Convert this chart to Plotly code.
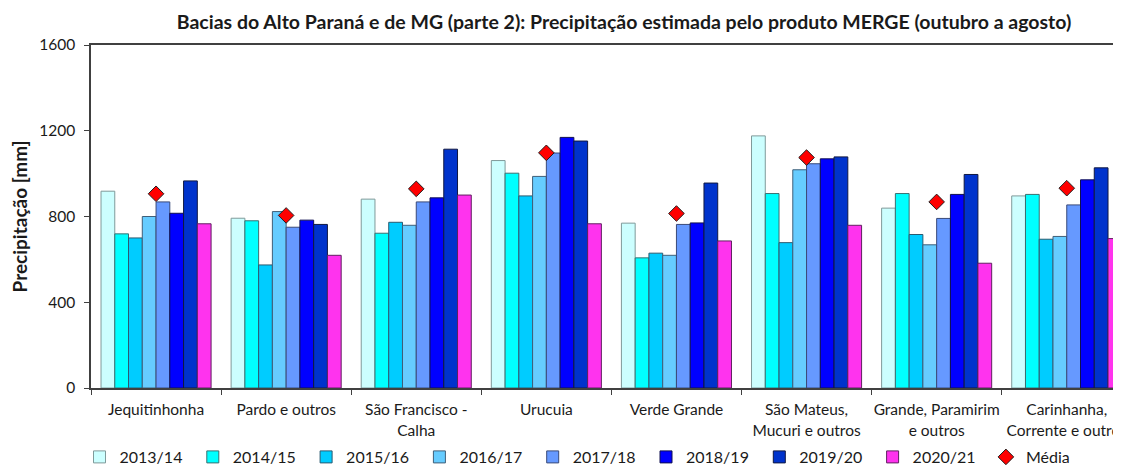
import plotly.graph_objects as go

categories = ["Jequitinhonha", "Pardo e outros", "São Francisco -<br>Calha", "Urucuia",
              "Verde Grande", "São Mateus,<br>Mucuri e outros", "Grande, Paramirim<br>e outros",
              "Carinhanha,<br>Corrente e outros"]

seasons = ["2013/14", "2014/15", "2015/16", "2016/17", "2017/18", "2018/19", "2019/20", "2020/21"]

v2013_14 = [918, 792, 881, 1061, 769, 1176, 839, 896]
v2014_15 = [719, 780, 722, 1002, 607, 907, 907, 903]
v2015_16 = [700, 574, 773, 896, 629, 678, 716, 694]
v2016_17 = [800, 823, 759, 987, 619, 1018, 668, 707]
v2017_18 = [868, 750, 868, 1096, 763, 1046, 791, 854]
v2018_19 = [815, 783, 887, 1169, 770, 1069, 903, 971]
v2019_20 = [966, 763, 1114, 1152, 956, 1078, 996, 1027]
v2020_21 = [766, 619, 900, 766, 686, 759, 582, 697]
media = [906, 805, 929, 1097, 814, 1075, 868, 932]

series = [v2013_14, v2014_15, v2015_16, v2016_17, v2017_18, v2018_19, v2019_20, v2020_21]
colors = ["#CCFFFF", "#00FFFF", "#00CCFF", "#66CCFF", "#6699FF", "#0000FF", "#0033CC", "#FF33EE"]
edges = ["#7F9A9A", "#3A6F70", "#2A5A70", "#3F5F78", "#3A4A78", "#101050", "#101840", "#602060"]

FONT = "Lato"
OFF = 8  # page body margin
W, H = 1121 - OFF, 467 - OFF
L, R, T, B = 91 - OFF, 0, 45 - OFF, 79
PW, PH = W - L - R, H - T - B

fig = go.Figure()
for name, vals, col, ed in zip(seasons, series, colors, edges):
    fig.add_trace(go.Bar(x=categories, y=vals, name=name,
                         marker=dict(color=col, line=dict(color=ed, width=1))))
fig.add_trace(go.Scatter(x=categories, y=media, name="Média", mode="markers",
                         marker=dict(symbol="diamond", size=12, color="#FF0000",
                                     line=dict(color="#202020", width=1))))

fig.update_layout(
    width=W, height=H,
    margin=dict(l=L, r=R, t=T, b=B, autoexpand=False),
    paper_bgcolor="white", plot_bgcolor="white",
    barmode="group", bargap=0.154, bargroupgap=0,
    font=dict(family=FONT, size=15.5, color="#1a1a1a"),
    title=dict(text="<b>Bacias do Alto Paraná e de MG (parte 2): Precipitação estimada pelo produto MERGE (outubro a agosto)</b>",
               x=(624 - OFF - L) / PW, xref="paper", xanchor="center", y=1 - (22 - OFF) / H,
               yref="container", yanchor="middle",
               font=dict(family=FONT, size=19.5, color="#1a1a1a")),
    showlegend=True,
    legend=dict(orientation="h", x=(79.5 - OFF - L) / PW, y=-(457 - OFF - (H - B)) / PH,
                xanchor="left", yanchor="middle",
                entrywidth=68.3, entrywidthmode="pixels",
                font=dict(family=FONT, size=16, color="#1a1a1a"), itemwidth=30,
                bgcolor="rgba(0,0,0,0)"),
)

fig.update_xaxes(range=[-0.5, 7.417], showline=True, linecolor="#404040", linewidth=1.5,
                 mirror=True, ticks="outside", tickson="boundaries", ticklen=5,
                 tickcolor="#404040", showgrid=False, automargin=False, tickangle=0,
                 tickfont=dict(size=15.5), ticklabelstandoff=7)
fig.update_yaxes(range=[0, 1600], tickvals=[0, 400, 800, 1200, 1600], showline=True,
                 linecolor="#404040", linewidth=1.5, ticks="outside", ticklen=5,
                 tickcolor="#404040", showgrid=False, zeroline=False, automargin=False,
                 tickfont=dict(size=15.5), ticklabelstandoff=6,
                 title=dict(text="<b>Precipitação [mm]</b>", font=dict(size=19), standoff=12))

fig.write_html("out.html")
